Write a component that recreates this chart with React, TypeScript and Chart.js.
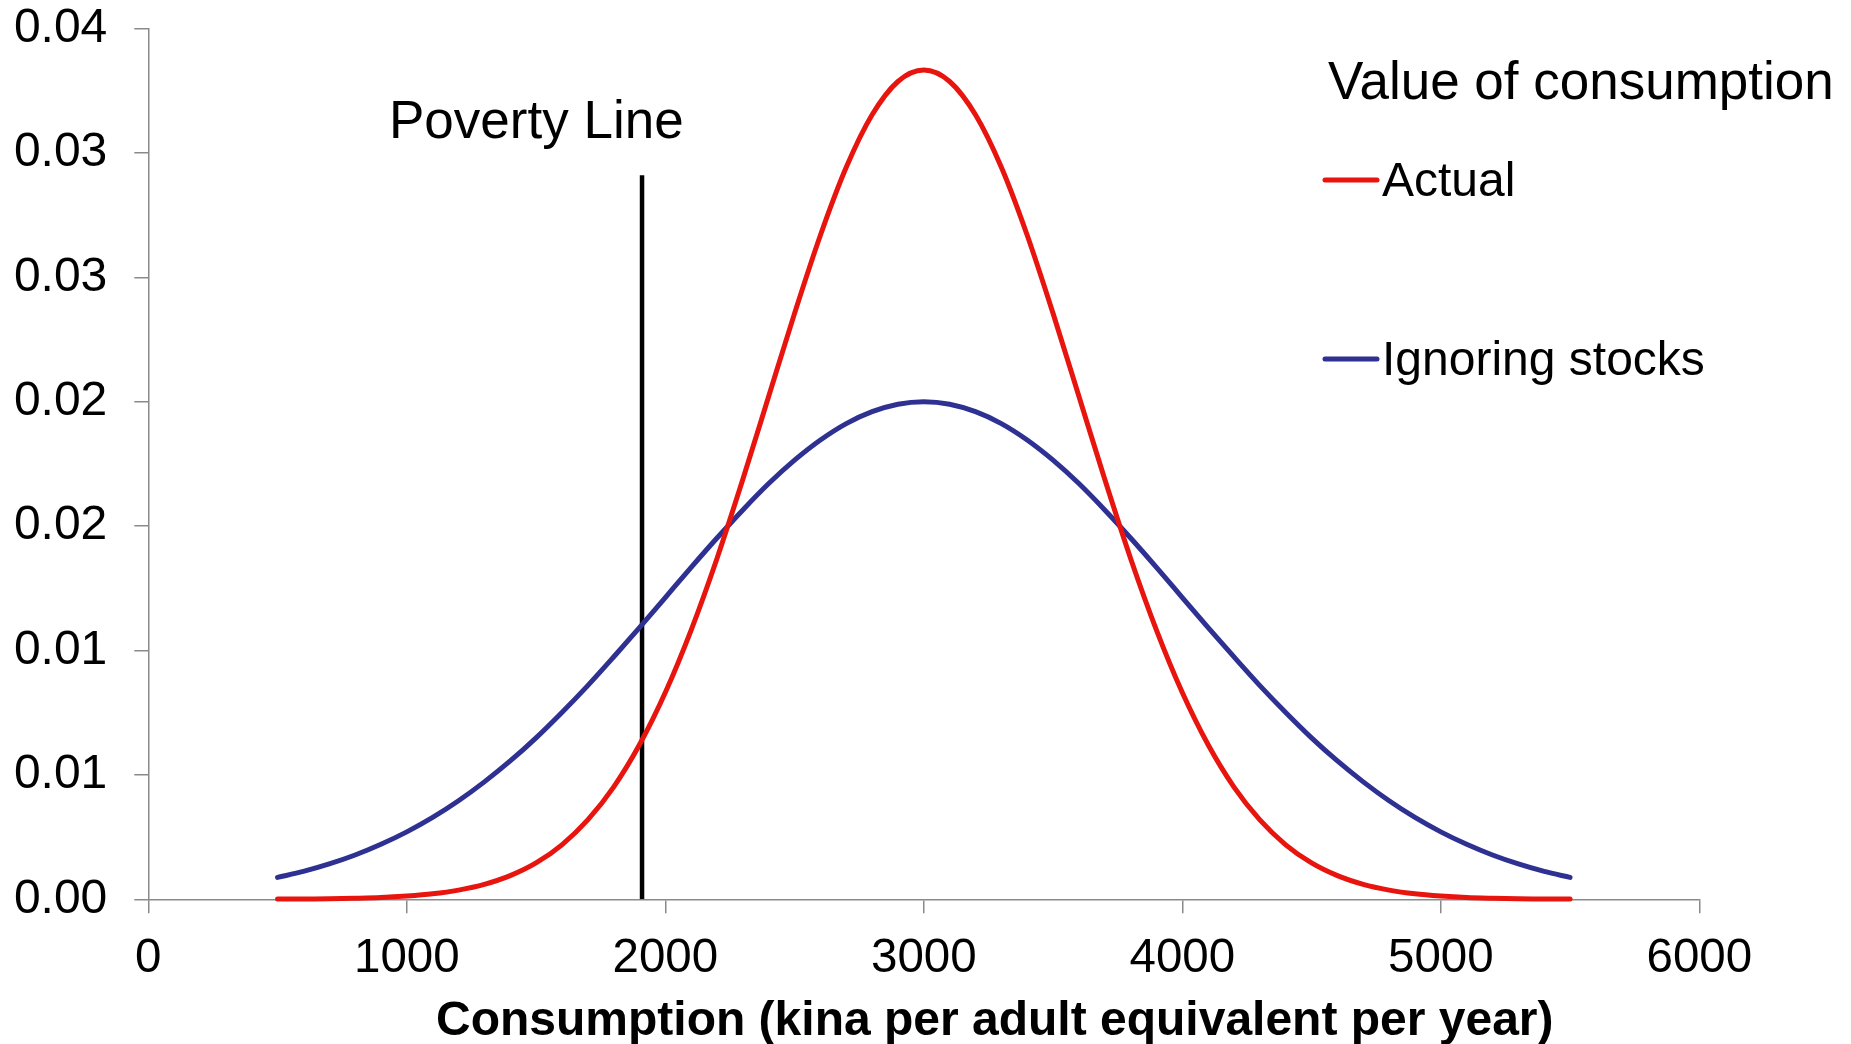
import { useEffect, useRef } from "react";
import { Chart, registerables } from "chart.js";

Chart.register(...registerables);

// Consumption (kina per adult equivalent per year)
const xValues = [
  500, 600, 700, 800, 900, 1000, 1100, 1200, 1300, 1400, 1500, 1600, 1700, 1800, 1900, 2000, 2100,
  2200, 2300, 2400, 2500, 2600, 2700, 2800, 2900, 3000, 3100, 3200, 3300, 3400, 3500, 3600, 3700,
  3800, 3900, 4000, 4100, 4200, 4300, 4400, 4500, 4600, 4700, 4800, 4900, 5000, 5100, 5200, 5300,
  5400, 5500,
];

const actualValues = [
  0.00001, 0.00001, 0.00002, 0.00004, 0.00007, 0.00013, 0.00022, 0.00037, 0.0006, 0.00095, 0.00146,
  0.00219, 0.00319, 0.00451, 0.00621, 0.00831, 0.01082, 0.0137, 0.01688, 0.02022, 0.02355, 0.02669,
  0.02942, 0.03153, 0.03287, 0.03333, 0.03287, 0.03153, 0.02942, 0.02669, 0.02355, 0.02022, 0.01688,
  0.0137, 0.01082, 0.00831, 0.00621, 0.00451, 0.00319, 0.00219, 0.00146, 0.00095, 0.0006, 0.00037,
  0.00022, 0.00013, 0.00007, 0.00004, 0.00002, 0.00001, 0.00001,
];

const ignoringStocksValues = [
  0.00088, 0.00112, 0.00142, 0.00178, 0.00221, 0.00271, 0.00329, 0.00396, 0.00472, 0.00556, 0.00649,
  0.00751, 0.00859, 0.00974, 0.01092, 0.01213, 0.01334, 0.01452, 0.01565, 0.01671, 0.01765, 0.01846,
  0.01912, 0.0196, 0.0199, 0.02, 0.0199, 0.0196, 0.01912, 0.01846, 0.01765, 0.01671, 0.01565, 0.01452,
  0.01334, 0.01213, 0.01092, 0.00974, 0.00859, 0.00751, 0.00649, 0.00556, 0.00472, 0.00396, 0.00329,
  0.00271, 0.00221, 0.00178, 0.00142, 0.00112, 0.00088,
];

const povertyLineX = 1910;
const povertyLineTop = 0.0291;

const seriesLabels = ["Actual", "Ignoring stocks"];
const seriesColors = ["#E8150F", "#2E3192"];
const legendTitle = "Value of consumption";
const povertyLabel = "Poverty Line";
const xAxisTitle = "Consumption (kina per adult equivalent per year)";

const yTickLabels = ["0.00", "0.01", "0.01", "0.02", "0.02", "0.03", "0.03", "0.04"];
const xTickLabels = ["0", "1000", "2000", "3000", "4000", "5000", "6000"];

const FONT = '"Liberation Sans", Arial, Helvetica, sans-serif';
const AXIS_COLOR = "#8A8A8A";

const textPlugin = {
  id: "customText",
  afterDraw(chart: any) {
    const ctx = chart.ctx as CanvasRenderingContext2D;
    ctx.save();
    ctx.fillStyle = "#000";
    ctx.textBaseline = "alphabetic";
    ctx.textAlign = "left";

    // Poverty line label
    ctx.font = `53px ${FONT}`;
    ctx.fillText(povertyLabel, 389, 138);

    // Legend title
    ctx.fillText(legendTitle, 1328, 99);

    // Legend items
    const rows = [180, 359];
    ctx.font = `48px ${FONT}`;
    seriesLabels.forEach((label, i) => {
      ctx.strokeStyle = seriesColors[i];
      ctx.lineWidth = 5;
      ctx.lineCap = "round";
      ctx.beginPath();
      ctx.moveTo(1325, rows[i]);
      ctx.lineTo(1377, rows[i]);
      ctx.stroke();
      ctx.fillText(label, 1382, rows[i] + 16);
    });

    // X axis title
    ctx.font = `bold 48px ${FONT}`;
    ctx.textAlign = "left";
    ctx.fillText(xAxisTitle, 436, 1035);
    ctx.restore();
  },
};

export default function App() {
  const ref = useRef<HTMLCanvasElement>(null);

  useEffect(() => {
    const canvas = ref.current!;
    const chart = new Chart(canvas, {
      type: "line",
      data: {
        datasets: [
          {
            label: seriesLabels[0],
            data: xValues.map((x, i) => ({ x, y: actualValues[i] })),
            borderColor: seriesColors[0],
            borderWidth: 5,
            borderCapStyle: "round",
            pointRadius: 0,
            cubicInterpolationMode: "monotone",
            fill: false,
            clip: false,
          },
          {
            label: seriesLabels[1],
            data: xValues.map((x, i) => ({ x, y: ignoringStocksValues[i] })),
            borderColor: seriesColors[1],
            borderWidth: 5,
            borderCapStyle: "round",
            pointRadius: 0,
            cubicInterpolationMode: "monotone",
            fill: false,
            clip: false,
          },
          {
            label: povertyLabel,
            data: [
              { x: povertyLineX, y: 0 },
              { x: povertyLineX, y: povertyLineTop },
            ],
            borderColor: "#000000",
            borderWidth: 4.5,
            borderCapStyle: "butt",
            pointRadius: 0,
            fill: false,
          },
        ],
      },
      options: {
        responsive: false,
        animation: false,
        events: [],
        layout: { padding: { top: 28.5, right: 151.7, left: 0, bottom: 0 } },
        plugins: {
          legend: { display: false },
          tooltip: { enabled: false },
          title: { display: false },
        },
        scales: {
          x: {
            type: "linear",
            min: 0,
            max: 6000,
            ticks: {
              stepSize: 1000,
              color: "#000",
              font: { family: FONT, size: 47.5 },
              padding: 17.5,
              maxRotation: 0,
              callback: (_v: any, i: number) => xTickLabels[i],
            },
            grid: {
              drawOnChartArea: false,
              drawTicks: true,
              tickLength: 14,
              color: AXIS_COLOR,
              lineWidth: 1.5,
            },
            border: { display: true, color: AXIS_COLOR, width: 1.5 },
            afterFit: (scale: any) => {
              scale.height = 144.7;
            },
          },
          y: {
            type: "linear",
            min: 0,
            max: 0.035,
            ticks: {
              stepSize: 0.005,
              color: "#000",
              font: { family: FONT, size: 48 },
              padding: 27,
              callback: (_v: any, i: number) => yTickLabels[i],
            },
            grid: {
              drawOnChartArea: false,
              drawTicks: true,
              tickLength: 14,
              color: AXIS_COLOR,
              lineWidth: 1.5,
            },
            border: { display: true, color: AXIS_COLOR, width: 1.5 },
            afterFit: (scale: any) => {
              scale.width = 148.3;
              scale.paddingTop = 0;
              scale.paddingBottom = 0;
            },
          },
        },
      },
      plugins: [textPlugin],
    } as any);
    return () => chart.destroy();
  }, []);

  return (
    <div style={{ position: "absolute", left: 0, top: 0, width: 1851, height: 1044, background: "#fff" }}>
      <canvas ref={ref} width={1851} height={1044} style={{ display: "block" }} />
    </div>
  );
}
